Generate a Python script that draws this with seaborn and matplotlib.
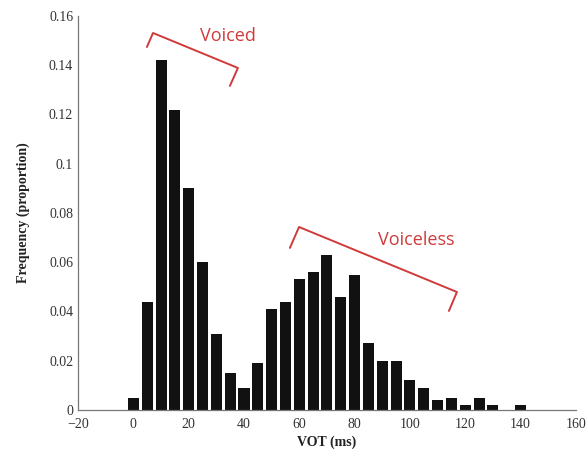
import matplotlib
matplotlib.use("Agg")
import matplotlib.pyplot as plt
import seaborn as sns
import pandas as pd

# VOT bins (ms) and proportions
vot = [0, 5, 10, 15, 20, 25, 30, 35, 40, 45, 50, 55, 60, 65, 70, 75, 80,
       85, 90, 95, 100, 105, 110, 115, 120, 125, 130, 135, 140]
freq = [0.005, 0.044, 0.142, 0.122, 0.090, 0.060, 0.031, 0.015, 0.009, 0.019,
        0.041, 0.044, 0.053, 0.056, 0.063, 0.046, 0.055, 0.027, 0.020, 0.020,
        0.012, 0.009, 0.004, 0.005, 0.002, 0.005, 0.002, 0.0, 0.002]

xticks = [-20, 0, 20, 40, 60, 80, 100, 120, 140, 160]
yticks = [0, 0.02, 0.04, 0.06, 0.08, 0.1, 0.12, 0.14, 0.16]
ytick_labels = ["0", "0.02", "0.04", "0.06", "0.08", "0.1", "0.12", "0.14", "0.16"]

# bracket outlines for the two labels (data coords)
voiced_x = [4.9, 7.1, 37.8, 34.9]
voiced_y = [0.1474, 0.1531, 0.1389, 0.1316]
voiceless_x = [56.6, 59.9, 117.0, 114.1]
voiceless_y = [0.0658, 0.0743, 0.0479, 0.0402]

df = pd.DataFrame({"VOT": vot, "freq": freq})

sns.set_style("white")
plt.rcParams["font.family"] = ["Liberation Serif", "DejaVu Serif"]

fig = plt.figure(figsize=(5.87, 4.57), dpi=100)
ax = fig.add_axes([0.133, 0.103, 0.848, 0.862])

sns.barplot(data=df, x="VOT", y="freq", native_scale=True, width=0.8,
            color="#111111", saturation=1, ax=ax, edgecolor="none")

ax.set_xlim(-20, 160)
ax.set_ylim(0, 0.16)
ax.set_xticks(xticks)
ax.set_xticklabels([str(t).replace("-", "\u2212") for t in xticks])
ax.set_yticks(yticks)
ax.set_yticklabels(ytick_labels)
ax.tick_params(direction="in", length=3, colors="#555555", labelsize=10,
               labelcolor="#333333")
ax.tick_params(axis="x", pad=6)
for s in ["top", "right"]:
    ax.spines[s].set_visible(False)
for s in ["left", "bottom"]:
    ax.spines[s].set_color("#777777")
    ax.spines[s].set_linewidth(0.9)

ax.set_xlabel("VOT (ms)", fontsize=10, fontweight="bold", color="#222222", labelpad=3)
ax.set_ylabel("Frequency (proportion)", fontsize=10, fontweight="bold", color="#222222", labelpad=14)

red = "#d03a3a"
ax.plot(voiced_x, voiced_y, color=red, lw=1.4, clip_on=False)
ax.plot(voiceless_x, voiceless_y, color=red, lw=1.4, clip_on=False)
ax.text(34.2, 0.152, "Voiced", color=red, fontsize=13, ha="center", va="center",
        family=["Open Sans", "DejaVu Sans"])
ax.text(102.2, 0.069, "Voiceless", color=red, fontsize=13, ha="center", va="center",
        family=["Open Sans", "DejaVu Sans"])

fig.savefig("out.png", dpi=100)
